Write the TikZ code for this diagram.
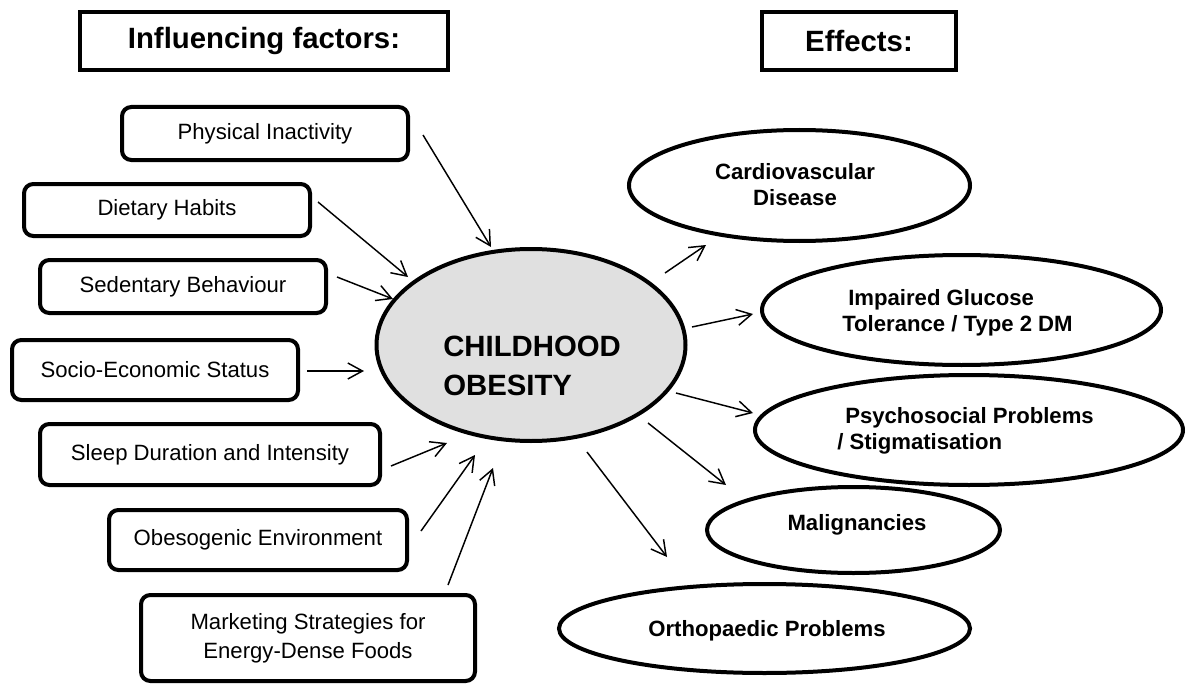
\documentclass[tikz,border=0pt]{standalone}
\usepackage{fontspec}
\setmainfont{Liberation Sans}
\usetikzlibrary{arrows.meta,shapes.geometric}
\newdimen\pxu \pxu=0.75pt
\definecolor{obfill}{RGB}{224,224,224}
\tikzset{
  factor/.style={draw, line width=3pt, rounded corners=7pt, inner sep=0pt, align=center,
    font=\fontsize{16.6pt}{21.75pt}\selectfont},
  titlebox/.style={draw, line width=3pt, inner sep=0pt, font=\bfseries\fontsize{22pt}{26pt}\selectfont},
  effect/.style={draw, ellipse, line width=3pt, inner sep=0pt},
  etext/.style={font=\bfseries\fontsize{16.6pt}{19.5pt}\selectfont, inner sep=0pt},
  arr/.style={-{Straight Barb[length=11pt,width=12pt]}, line width=1.1pt},
}
\begin{document}
\begin{tikzpicture}[x=0.75pt,y=-0.75pt]
\useasboundingbox (0,0) rectangle (1186,685);

% titles
\node[titlebox, minimum width=368\pxu, minimum height=58\pxu] (t1) at (264,41) {Influencing factors:};
\node[titlebox, minimum width=194\pxu, minimum height=58\pxu] (t2) at (859,41) {Effects:};

% factors
\node[factor, minimum width=286\pxu, minimum height=53\pxu] (pa) at (265,133.5) {Physical Inactivity};
\node[factor, minimum width=286\pxu, minimum height=52\pxu] (dh) at (167,210) {Dietary Habits};
\node[factor, minimum width=286\pxu, minimum height=53\pxu] (sb) at (183,286.5) {Sedentary Behaviour};
\node[factor, minimum width=286\pxu, minimum height=60\pxu] (ses) at (155,370) {Socio-Economic Status};
\node[factor, minimum width=340\pxu, minimum height=61\pxu] (sd) at (210,454.5) {Sleep Duration and Intensity};
\node[factor, minimum width=298\pxu, minimum height=60\pxu] (oe) at (258,540) {Obesogenic Environment};
\node[factor, minimum width=334\pxu, minimum height=86\pxu] (ms) at (308,638) {Marketing Strategies for\\Energy-Dense Foods};

% central
\node[effect, fill=obfill, minimum width=309\pxu, minimum height=192\pxu] (ob) at (531,345) {};
\node[anchor=west, align=left, inner sep=0pt, font=\bfseries\fontsize{22pt}{29.25pt}\selectfont] (obt) at (443,366) {CHILDHOOD\\OBESITY};

% effects
\node[effect, minimum width=341\pxu, minimum height=111\pxu] (cvd) at (799.5,185.5) {};
\node[etext, align=center] (cvdt) at (795,185) {Cardiovascular\\Disease};
\node[effect, minimum width=399\pxu, minimum height=110\pxu] (igt) at (961.5,310) {};
\node[etext, align=left, anchor=west] (igtt) at (842,313) {\hspace*{4.5pt}Impaired Glucose\\Tolerance / Type 2 DM};
\node[effect, minimum width=428\pxu, minimum height=110\pxu] (psy) at (969,430) {};
\node[etext, align=left, anchor=west] (psyt) at (837,431) {\hspace*{6pt}Psychosocial Problems\\/ Stigmatisation};
\node[effect, minimum width=293\pxu, minimum height=86\pxu] (mal) at (853.5,530) {};
\node[etext] (malt) at (857,525) {Malignancies};
\node[effect, minimum width=411\pxu, minimum height=89\pxu] (ort) at (764.5,628.5) {};
\node[etext] (ortt) at (767,631) {Orthopaedic Problems};

% incoming arrows
\draw[arr] ([shift={(13,1.5)}]pa.east) -- ([shift={(-40,-98)}]ob.center);
\draw[arr] ([shift={(6,-8)}]dh.east) -- ([shift={(-123,-68)}]ob.center);
\draw[arr] ([shift={(9,-9.5)}]sb.east) -- ([shift={(-138,-46)}]ob.center);
\draw[arr] ([shift={(7,1)}]ses.east) -- ([shift={(-167,26)}]ob.center);
\draw[arr] ([shift={(9,11.5)}]sd.east) -- ([shift={(-84,98)}]ob.center);
\draw[arr] ([shift={(12,-9)}]oe.east) -- ([shift={(-56,110)}]ob.center);
\draw[arr] ([shift={(140,-8)}]ms.north) -- ([shift={(-38,123)}]ob.center);

% outgoing arrows
\draw[arr] ([shift={(134,-72)}]ob.center) -- ([shift={(-93.5,59.5)}]cvd.center);
\draw[arr] ([shift={(161,-18)}]ob.center) -- ([shift={(-208.5,4)}]igt.center);
\draw[arr] ([shift={(145,48)}]ob.center) -- ([shift={(-216,-17)}]psy.center);
\draw[arr] ([shift={(117,78)}]ob.center) -- ([shift={(-127.5,-45)}]mal.center);
\draw[arr] ([shift={(56,107)}]ob.center) -- ([shift={(-97.5,-71.5)}]ort.center);
\end{tikzpicture}
\end{document}
